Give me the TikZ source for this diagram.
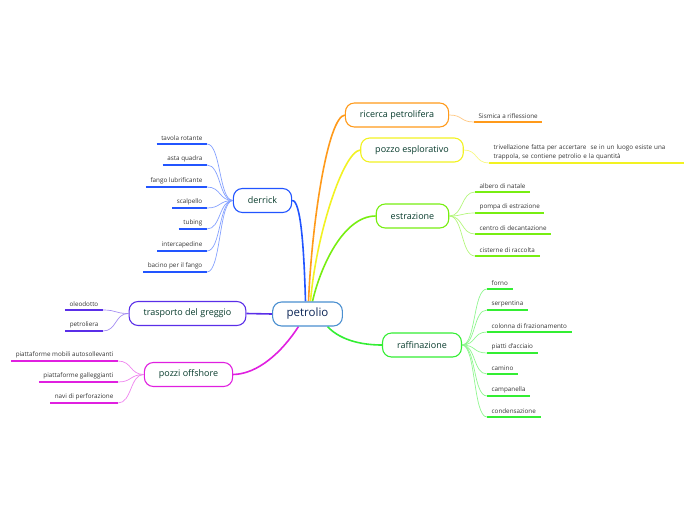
\documentclass[tikz,border=0pt]{standalone}
\usepackage{fontspec}
\setmainfont{Open Sans}
\usepackage{tikz}
\usetikzlibrary{positioning, backgrounds}

\definecolor{rootline}{HTML}{4A8FD0}
\definecolor{roottxt}{HTML}{0B2556}
\definecolor{topictxt}{HTML}{073B2C}
\definecolor{leaftxt}{HTML}{333333}
\definecolor{cDerrick}{HTML}{2255FF}
\definecolor{cRicerca}{HTML}{FF9A1A}
\definecolor{cPozzo}{HTML}{F2F222}
\definecolor{cEstraz}{HTML}{77EE11}
\definecolor{cRaffin}{HTML}{33EE33}
\definecolor{cTrasp}{HTML}{5A2EE8}
\definecolor{cOffsh}{HTML}{E020E0}

\begin{document}
\begin{tikzpicture}[
  x=1pt, y=-1pt,
  font=\fontsize{9}{11}\selectfont,
  root/.style={
    rectangle, rounded corners=9pt, fill=white, draw=rootline,
    line width=1.1pt, text=roottxt, font=\fontsize{11.5}{13}\selectfont,
    minimum height=24pt, inner xsep=14pt
  },
  topic/.style={
    rectangle, rounded corners=9pt, fill=white, draw=#1,
    line width=1.1pt, text=topictxt, minimum height=24pt, inner xsep=14.5pt
  },
  leaf/.style={
    font=\fontsize{6.3}{9}\selectfont, text=leaftxt,
    inner xsep=4.5pt, inner ysep=3pt,
    append after command={(\tikzlastnode.south west)
      edge[draw=#1, line width=1.8pt] (\tikzlastnode.south east)}
  },
  leafL/.style={leaf=#1, anchor=south east},
  leafR/.style={leaf=#1, anchor=south west},
  branch/.style={draw=#1, line width=1.6pt},
  twig/.style={draw=#1, line width=0.7pt},
]
\useasboundingbox (0,0) rectangle (696,520);

%% Main topics
\node[root] (petrolio) at (307.5,314) {petrolio};
\node[topic=cDerrick] (derrick) at (262.5,200.5) {derrick};
\node[topic=cTrasp]   (trasp)   at (187.5,313.5) {trasporto del greggio};
\node[topic=cOffsh]   (offsh)   at (188.5,374.5) {pozzi offshore};
\node[topic=cRicerca] (ricerca) at (397,115) {ricerca petrolifera};
\node[topic=cPozzo]   (pozzo)   at (412,150) {pozzo esplorativo};
\node[topic=cEstraz]  (estraz)  at (412.5,216) {estrazione};
\node[topic=cRaffin]  (raffin)  at (422,345) {raffinazione};

%% Branches
\begin{scope}[on background layer]
\path[branch=cDerrick] (derrick.east) .. controls (301,200) and (304,250) .. ([xshift=-2pt]petrolio.north);
\path[branch=cRicerca] (ricerca.west) .. controls (328,117) and (312,220) .. ([xshift=1pt]petrolio.north);
\path[branch=cPozzo]   (pozzo.west) .. controls (343,152) and (316,235) .. ([xshift=3pt]petrolio.north);
\path[branch=cEstraz]  (estraz.west) .. controls (343,216) and (320,268) .. ([xshift=5pt]petrolio.north);
\path[branch=cRaffin]  ([xshift=20pt]petrolio.south) .. controls (342,342) and (366,345) .. (raffin.west);
\path[branch=cOffsh]   ([xshift=-9pt]petrolio.south) .. controls (282,352) and (258,374) .. (offsh.east);
\path[branch=cTrasp]   (trasp.east) -- (petrolio.west);
\end{scope}

%% Leaves: derrick
\node[leafL=cDerrick] (d1) at (207,144) {tavola rotante};
\node[leafL=cDerrick] (d2) at (207,165) {asta quadra};
\node[leafL=cDerrick] (d3) at (207,187) {fango lubrificante};
\node[leafL=cDerrick] (d4) at (207,208) {scalpello};
\node[leafL=cDerrick] (d5) at (207,229) {tubing};
\node[leafL=cDerrick] (d6) at (207,251) {intercapedine};
\node[leafL=cDerrick] (d7) at (207,272) {bacino per il fango};
\foreach \n in {d1,d2,d3,d4,d5,d6,d7}
  \draw[twig=cDerrick!55] (derrick.west) .. controls +(-14,0) and +(14,0) .. (\n.south east);

%% Leaves: trasporto del greggio
\node[leafL=cTrasp] (t1) at (103,310) {oleodotto};
\node[leafL=cTrasp] (t2) at (103,331) {petroliera};
\foreach \n in {t1,t2}
  \draw[twig=cTrasp!55] (trasp.west) .. controls +(-14,0) and +(14,0) .. (\n.south east);

%% Leaves: pozzi offshore
\node[leafL=cOffsh] (o1) at (118,361) {piattaforme mobili autosollevanti};
\node[leafL=cOffsh] (o2) at (118,382) {piattaforme galleggianti};
\node[leafL=cOffsh] (o3) at (118,403) {navi di perforazione};
\foreach \n in {o1,o2,o3}
  \draw[twig=cOffsh!55] (offsh.west) .. controls +(-14,0) and +(14,0) .. (\n.south east);

%% Leaves: ricerca / pozzo
\node[leafR=cRicerca] (r1) at (474,122) {Sismica a riflessione};
\draw[twig=cRicerca!55] (ricerca.east) .. controls +(14,0) and +(-14,0) .. (r1.south west);
\node[leafR=cPozzo, text width=186pt, align=left] (p1) at (489,163)
  {trivellazione fatta per accertare\ \ se in un luogo esiste una\\trappola, se contiene petrolio e la quantità};
\draw[twig=cPozzo!55] (pozzo.east) .. controls +(14,0) and +(-14,0) .. (p1.south west);

%% Leaves: estrazione
\node[leafR=cEstraz] (e1) at (475,192) {albero di natale};
\node[leafR=cEstraz] (e2) at (475,213) {pompa di estrazione};
\node[leafR=cEstraz] (e3) at (475,234) {centro di decantazione};
\node[leafR=cEstraz] (e4) at (475,256) {cisterne di raccolta};
\foreach \n in {e1,e2,e3,e4}
  \draw[twig=cEstraz!55] (estraz.east) .. controls +(14,0) and +(-14,0) .. (\n.south west);

%% Leaves: raffinazione
\node[leafR=cRaffin] (f1) at (487,289) {forno};
\node[leafR=cRaffin] (f2) at (487,310) {serpentina};
\node[leafR=cRaffin] (f3) at (487,332) {colonna di frazionamento};
\node[leafR=cRaffin] (f4) at (487,353) {piatti d'acciaio};
\node[leafR=cRaffin] (f5) at (487,374) {camino};
\node[leafR=cRaffin] (f6) at (487,396) {campanella};
\node[leafR=cRaffin] (f7) at (487,417) {condensazione};
\foreach \n in {f1,f2,f3,f4,f5,f6,f7}
  \draw[twig=cRaffin!55] (raffin.east) .. controls +(14,0) and +(-14,0) .. (\n.south west);
\end{tikzpicture}
\end{document}
